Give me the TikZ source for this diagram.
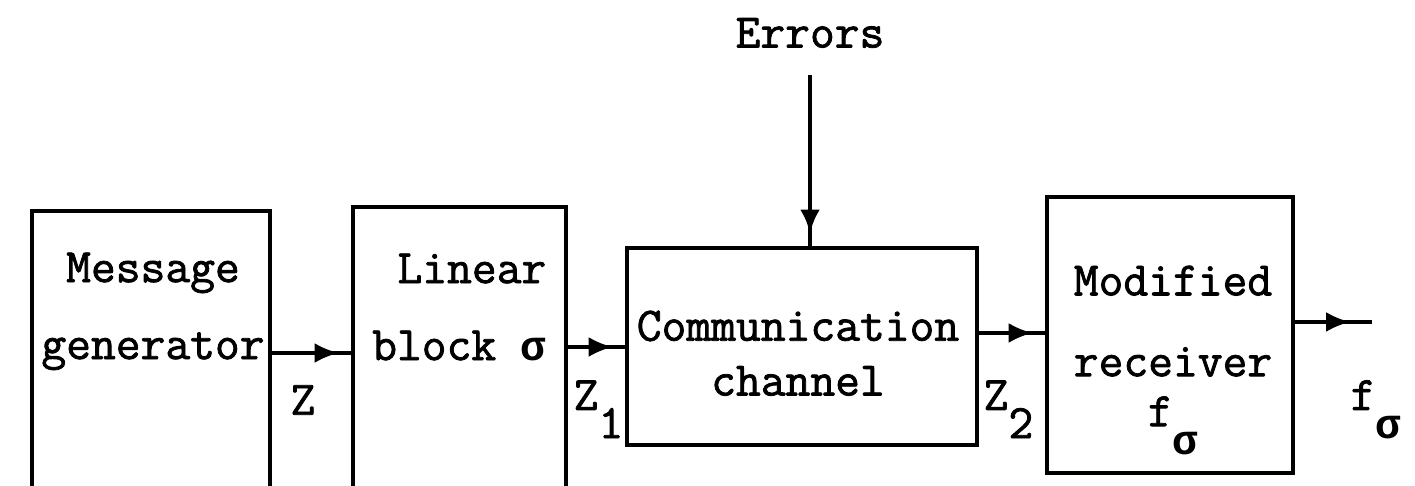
\documentclass[tikz,border=0pt]{standalone}
\usepackage{fontspec}
\setmonofont{Latin Modern Mono}[AutoFakeBold=1.6]
\newfontfamily\grk{Liberation Mono}
\usetikzlibrary{arrows.meta,decorations.markings}

\newcommand{\tw}{\fontsize{13.7pt}{16.4pt}\selectfont\ttfamily\bfseries}
\newcommand{\sig}{{\grk\fontsize{12pt}{14pt}\selectfont σ}}
\newcommand{\lowsub}[1]{\raisebox{-8pt}{#1}}

\tikzset{
  blk/.style={draw, rectangle, line width=1.4pt, inner sep=0pt},
  txt/.style={font=\tw, inner sep=0pt},
  flow/.style={line width=1pt, postaction=decorate,
    decoration={markings, mark=at position #1 with {\arrow{Latex[length=2.4mm,width=2mm]}}}},
  flow/.default=-1.2mm,
}

\begin{document}
\begin{tikzpicture}
        \useasboundingbox (0,0) rectangle (14.15,4.86);
        \clip (0,0) rectangle (14.15,4.86);

        % blocks
        \node[blk,minimum width=2.38cm,minimum height=3.09cm] (gen) at (1.51,1.205) {};
        \node[blk,minimum width=2.13cm,minimum height=3.13cm] (lin) at (4.595,1.225) {};
        \node[blk,minimum width=3.50cm,minimum height=1.97cm] (chan) at (8.02,1.395) {};
        \node[blk,minimum width=2.46cm,minimum height=2.76cm] (rec) at (11.70,1.51) {};

        % block texts
        \node[txt,align=center,anchor=north] (gen-t) at (1.53,2.34) {Message\\[5.5pt]generator};
        \node[txt,align=right,anchor=north east] (lin-t) at (5.47,2.33) {Linear\\[5.5pt]block \sig};
        \node[txt,align=center,anchor=north] (chan-t) at (7.98,1.76) {Communication\\[-0.8pt]channel};
        \node[txt,align=center,anchor=north] (rec-t) at (11.73,2.21) {Modified\\[6.6pt]receiver\\[-2.2pt]f\lowsub{\sig}};

        % errors input
        \node[txt] (err) at (8.10,4.53) {Errors};
        \coordinate (e) at (8.10,4.11);
        \draw[flow,line width=1.4pt] (e) -- (e |- chan.north);

        % signal path
        \coordinate (out) at (13.72,1.64);
        \draw[flow] (gen.east |- 0,1.33) -- (lin.west |- 0,1.33);
        \draw[flow] (lin.east |- 0,1.39) -- (chan.west |- 0,1.39);
        \draw[flow] (chan.east |- 0,1.53) -- (rec.west |- 0,1.53);
        \draw[flow=-2.2mm] (rec.east |- out) -- (out);

        % signal labels
        \node[txt] (z) at (3.03,0.86) {Z};
        \node[txt,anchor=base west] (z1) at (5.73,0.76) {Z\lowsub{1}};
        \node[txt,anchor=base west] (z2) at (9.83,0.76) {Z\lowsub{2}};
        \node[txt,anchor=base west] (fs) at (13.50,0.76) {f\lowsub{\sig}};
      \end{tikzpicture}
\end{document}
